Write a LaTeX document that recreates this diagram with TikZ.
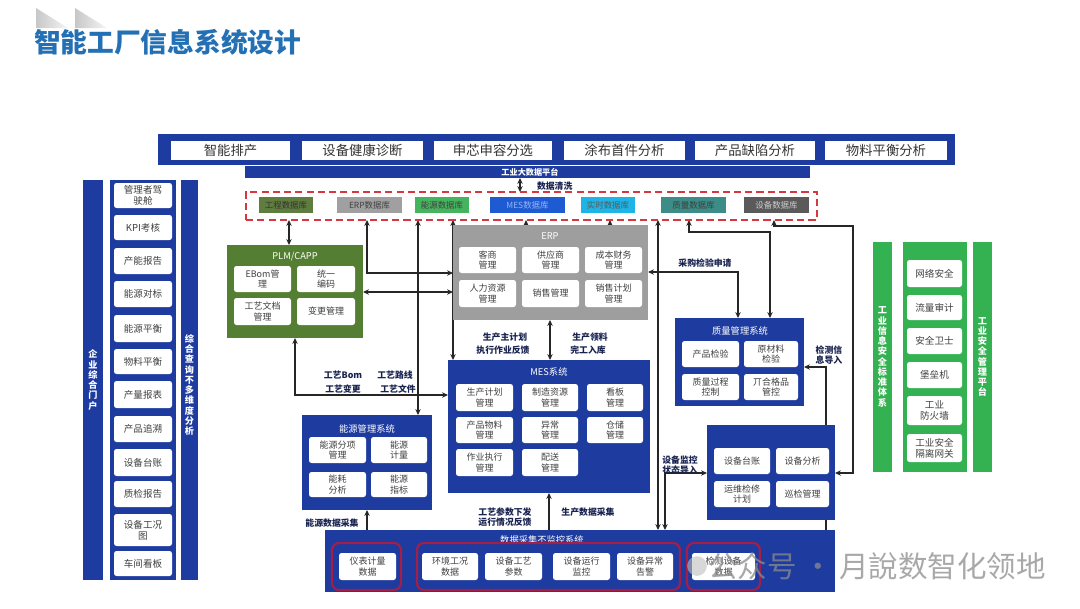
\documentclass[tikz,border=0pt]{standalone}
\usepackage{fontspec}
\setmainfont{Noto Sans CJK SC}
\usetikzlibrary{arrows.meta}
\definecolor{sysblue}{RGB}{30,60,160}
\definecolor{plmgreen}{RGB}{84,126,50}
\definecolor{erpgray}{RGB}{158,158,158}
\definecolor{secgreen}{RGB}{52,178,82}
\definecolor{dashred}{RGB}{214,56,64}
\definecolor{grpred}{RGB}{165,30,70}
\definecolor{titleblue}{RGB}{36,112,180}
\definecolor{navy}{RGB}{25,35,80}
\definecolor{dbA}{RGB}{95,125,62}
\definecolor{dbB}{RGB}{160,160,160}
\definecolor{dbC}{RGB}{70,180,95}
\definecolor{dbD}{RGB}{30,90,210}
\definecolor{dbE}{RGB}{30,180,230}
\definecolor{dbF}{RGB}{60,140,135}
\definecolor{dbG}{RGB}{90,90,90}
\pgfdeclarelayer{bg}
\pgfdeclarelayer{conn}
\pgfsetlayers{bg,conn,main}
\tikzset{
  bx/.style n args={4}{at={({(#1+#3)/2},{(#2+#4)/2})}, minimum width={(#3-#1)*0.025cm}, minimum height={(#4-#2)*0.025cm}},
  fb/.style={inner sep=0pt, outer sep=0pt, align=center},
  sysbox/.style={fb, fill=sysblue},
  wbox/.style={fb, fill=white, rounded corners=1.8pt, text=black!75, font=\fontsize{6.4}{7.6}\selectfont},
  lbox/.style={wbox, font=\fontsize{6.8}{8}\selectfont},
  topbox/.style={fb, fill=white, text=black!80, font=\fontsize{9.5}{11}\selectfont},
  dbbox/.style={fb, font=\fontsize{6}{7}\selectfont},
  systitle/.style={fb, text=white, font=\fontsize{6.6}{8}\selectfont},
  lbl/.style={fb, font=\bfseries\fontsize{6.3}{7.6}\selectfont, text=navy},
  vtext/.style={fb, text=white, font=\bfseries\fontsize{6.5}{7.3}\selectfont},
  grp/.style={fb, draw=grpred, line width=1.5pt, rounded corners=5pt},
  conn/.style={line width=0.75pt, draw=black!85}
}
\begin{document}
\begin{tikzpicture}[x=0.025cm,y=-0.025cm,>={Stealth[length=4.2pt,width=3.8pt]}]
\begin{pgfonlayer}{bg}
\fill[white] (0,0) rectangle (1080,608);
\shade[left color=black!22, right color=black!4] (36,8) -- (68,28) -- (36,28) -- cycle;
\shade[left color=black!22, right color=black!4] (75,8) -- (107,28) -- (75,28) -- cycle;
\end{pgfonlayer}
\useasboundingbox (0,0) rectangle (1080,608);

\node[fb, anchor=west, font=\bfseries\fontsize{19}{21}\selectfont, text=titleblue] (title) at (34,42) {智能工厂信息系统设计};

% top bar
\node[sysbox, bx={158}{134}{955}{165}] (topbar) {};
\node[topbox, bx={171}{141}{290}{160}] (ta) {智能排产};
\node[topbox, bx={302}{141}{423}{160}] (tb) {设备健康诊断};
\node[topbox, bx={434}{141}{552}{160}] (tc) {申芯申容分选};
\node[topbox, bx={564}{141}{685}{160}] (td) {涂布首件分析};
\node[topbox, bx={695}{141}{815}{160}] (te) {产品缺陷分析};
\node[topbox, bx={825}{141}{947}{160}] (tf) {物料平衡分析};

\node[sysbox, bx={245}{166}{810}{178}] (bigdata) {};
\node[fb, text=white, font=\bfseries\fontsize{5.8}{7}\selectfont] (bigdatat) at (530,172) {工业大数据平台};
\node[lbl, anchor=west] (clean) at (537,186) {数据清洗};

% database row
\node[fb, draw=dashred, dash pattern=on 5pt off 3pt, line width=1.5pt, bx={246}{192}{817}{220}] (dbgroup) {};
\node[dbbox, fill=dbA, text=black!80, bx={259}{197}{313}{213}] (db1) {工程数据库};
\node[dbbox, fill=dbB, text=black!75, bx={337}{197}{402}{213}] (db2) {ERP数据库};
\node[dbbox, fill=dbC, text=black!75, bx={415}{197}{469}{213}] (db3) {能源数据库};
\node[dbbox, fill=dbD, text={rgb,255:red,150;green,180;blue,245}, bx={490}{197}{565}{213}] (db4) {MES数据库};
\node[dbbox, fill=dbE, text=black!65, bx={581}{197}{635}{213}] (db5) {实时数据库};
\node[dbbox, fill=dbF, text=black!75, bx={661}{197}{726}{213}] (db6) {质量数据库};
\node[dbbox, fill=dbG, text=white!80!black, bx={744}{197}{809}{213}] (db7) {设备数据库};

% left panel
\node[sysbox, bx={83}{180}{103}{580}] (portal) {};
\node[vtext] (portalt) at (93,380) {企\\业\\综\\合\\门\\户};
\node[sysbox, bx={110}{180}{176}{580}] (leftcol) {};
\node[sysbox, bx={181}{180}{198}{580}] (query) {};
\node[vtext] (queryt) at (189.5,385) {综\\合\\查\\询\\不\\多\\维\\度\\分\\析};
\node[lbox, bx={114}{183}{172}{208}] (l1) {管理者驾\\驶舱};
\node[lbox, bx={114}{215}{172}{240}] (l2) {KPI考核};
\node[lbox, bx={114}{248}{172}{274}] (l3) {产能报告};
\node[lbox, bx={114}{281}{172}{307}] (l4) {能源对标};
\node[lbox, bx={114}{315}{172}{342}] (l5) {能源平衡};
\node[lbox, bx={114}{349}{172}{374}] (l6) {物料平衡};
\node[lbox, bx={114}{381}{172}{408}] (l7) {产量报表};
\node[lbox, bx={114}{416}{172}{442}] (l8) {产品追溯};
\node[lbox, bx={114}{449}{172}{476}] (l9) {设备台账};
\node[lbox, bx={114}{481}{172}{507}] (l10) {质检报告};
\node[lbox, bx={114}{514}{172}{546}] (l11) {设备工况\\图};
\node[lbox, bx={114}{551}{172}{576}] (l12) {车间看板};

% PLM
\node[fb, fill=plmgreen, bx={227}{245}{363}{338}] (plm) {};
\node[systitle] (plmt) at (295,257) {PLM/CAPP};
\node[wbox, bx={234}{266}{291}{292}] (p1) {EBom管\\理};
\node[wbox, bx={297}{266}{355}{292}] (p2) {统一\\编码};
\node[wbox, bx={234}{298}{291}{325}] (p3) {工艺文档\\管理};
\node[wbox, bx={297}{298}{355}{325}] (p4) {变更管理};

% ERP
\node[fb, fill=erpgray, bx={453}{225}{648}{320}] (erp) {};
\node[systitle] (erpt) at (550,236) {ERP};
\node[wbox, bx={459}{247}{516}{273}] (e1) {客商\\管理};
\node[wbox, bx={522}{247}{579}{273}] (e2) {供应商\\管理};
\node[wbox, bx={585}{247}{642}{273}] (e3) {成本财务\\管理};
\node[wbox, bx={459}{280}{516}{307}] (e4) {人力资源\\管理};
\node[wbox, bx={522}{280}{579}{307}] (e5) {销售管理};
\node[wbox, bx={585}{280}{642}{307}] (e6) {销售计划\\管理};

% MES
\node[sysbox, bx={448}{360}{650}{493}] (mes) {};
\node[systitle] (mest) at (549,372) {MES系统};
\node[wbox, bx={456}{384}{513}{411}] (m1) {生产计划\\管理};
\node[wbox, bx={522}{384}{578}{411}] (m2) {制造资源\\管理};
\node[wbox, bx={587}{384}{643}{411}] (m3) {看板\\管理};
\node[wbox, bx={456}{417}{513}{443}] (m4) {产品物料\\管理};
\node[wbox, bx={522}{417}{578}{443}] (m5) {异常\\管理};
\node[wbox, bx={587}{417}{643}{443}] (m6) {仓储\\管理};
\node[wbox, bx={456}{449}{513}{476}] (m7) {作业执行\\管理};
\node[wbox, bx={522}{449}{578}{476}] (m8) {配送\\管理};

% quality
\node[sysbox, bx={675}{318}{804}{406}] (quality) {};
\node[systitle] (qualityt) at (740,331) {质量管理系统};
\node[wbox, bx={682}{341}{739}{367}] (q1) {产品检验};
\node[wbox, bx={744}{341}{798}{367}] (q2) {原材料\\检验};
\node[wbox, bx={682}{374}{739}{400}] (q3) {质量过程\\控制};
\node[wbox, bx={744}{374}{798}{400}] (q4) {丌合格品\\管控};

% energy
\node[sysbox, bx={302}{415}{432}{510}] (energy) {};
\node[systitle] (energyt) at (367,429) {能源管理系统};
\node[wbox, bx={309}{437}{366}{463}] (en1) {能源分项\\管理};
\node[wbox, bx={371}{437}{427}{463}] (en2) {能源\\计量};
\node[wbox, bx={309}{472}{366}{497}] (en3) {能耗\\分析};
\node[wbox, bx={371}{472}{427}{497}] (en4) {能源\\指标};

% device
\node[sysbox, bx={707}{425}{835}{520}] (device) {};
\node[wbox, bx={714}{448}{770}{474}] (dv1) {设备台账};
\node[wbox, bx={776}{448}{829}{474}] (dv2) {设备分析};
\node[wbox, bx={714}{481}{770}{507}] (dv3) {运维检修\\计划};
\node[wbox, bx={776}{481}{829}{507}] (dv4) {巡检管理};

% data collection
\node[sysbox, bx={325}{530}{835}{592}] (dc) {};
\node[systitle] (dct) at (542,540) {数据采集不监控系统};
\node[grp, bx={332}{543}{401}{590}] (g1) {};
\node[grp, bx={417}{543}{680}{590}] (g2) {};
\node[grp, bx={687}{543}{760}{590}] (g3) {};
\node[wbox, bx={339}{553}{396}{580}] (c1) {仪表计量\\数据};
\node[wbox, bx={422}{553}{478}{580}] (c2) {环境工况\\数据};
\node[wbox, bx={485}{553}{542}{580}] (c3) {设备工艺\\参数};
\node[wbox, bx={553}{553}{610}{580}] (c4) {设备运行\\监控};
\node[wbox, bx={617}{553}{673}{580}] (c5) {设备异常\\告警};
\node[wbox, bx={692}{553}{755}{580}] (c6) {检测设备\\数据};

% security
\node[fb, fill=secgreen, bx={873}{242}{892}{472}] (sec1) {};
\node[vtext] (sec1t) at (882.5,357) {工\\业\\信\\息\\安\\全\\标\\准\\体\\系};
\node[fb, fill=secgreen, bx={903}{242}{967}{472}] (sec2) {};
\node[fb, fill=secgreen, bx={973}{242}{992}{472}] (sec3) {};
\node[vtext] (sec3t) at (982.5,357) {工\\业\\安\\全\\管\\理\\平\\台};
\node[lbox, bx={907}{260}{962}{287}] (s1) {网络安全};
\node[lbox, bx={907}{295}{962}{320}] (s2) {流量审计};
\node[lbox, bx={907}{328}{962}{354}] (s3) {安全卫士};
\node[lbox, bx={907}{362}{962}{388}] (s4) {堡垒机};
\node[lbox, bx={907}{396}{962}{425}] (s5) {工业\\防火墙};
\node[lbox, bx={907}{434}{962}{462}] (s6) {工业安全\\隔离网关};

% labels
\node[lbl] (la1) at (505,337) {生产主计划};
\node[lbl] (la2) at (503,350) {执行作业反馈};
\node[lbl] (la3) at (590,337) {生产领料};
\node[lbl] (la4) at (588,350) {完工入库};
\node[lbl] (la5) at (343,375) {工艺Bom};
\node[lbl] (la6) at (395,375) {工艺路线};
\node[lbl] (la7) at (343,389) {工艺变更};
\node[lbl] (la8) at (398,389) {工艺文件};
\node[lbl] (la9) at (705,263) {采购检验申请};
\node[lbl] (la10) at (829,355) {检测信\\息导入};
\node[lbl] (la11) at (680,465) {设备监控\\状态导入};
\node[lbl] (la12) at (332,523) {能源数据采集};
\node[lbl] (la13) at (505,517) {工艺参数下发\\运行情况反馈};
\node[lbl] (la14) at (588,512) {生产数据采集};

% watermark
\node[fb, circle, fill=black!25, opacity=0.6, minimum size=14pt] (wmicon) at (697,566) {};
\node[fb, anchor=west, text=black!45, opacity=0.75, font=\fontsize{21}{23}\selectfont] (wm) at (708,566) {公众号 · 月說数智化领地};

% connectors
\begin{pgfonlayer}{conn}
\draw[conn,<->] (520,0 |- bigdata.south) -- (520,0 |- dbgroup.north);
\draw[conn,<->] (289,0 |- dbgroup.south) -- (289,0 |- plm.north);
\draw[conn,<->] (367,0 |- dbgroup.south) |- (erp.west |- 0,273);
\draw[conn,<->] (plm.east |- 0,292) -- (erp.west |- 0,292);
\draw[conn,<->] (418,0 |- dbgroup.south) -- (418,0 |- energy.north);
\draw[conn,<->] (453,0 |- dbgroup.south) -- (453,0 |- mes.north);
\draw[conn,<-] (526,0 |- dbgroup.south) -- (526,0 |- erp.north);
\draw[conn,<-] (610,0 |- dbgroup.south) -- (610,0 |- erp.north);
\draw[conn,<->] (550,0 |- erp.south) -- (550,0 |- mes.north);
\draw[conn,<->] (295,0 |- plm.south) |- (mes.west |- 0,395);
\draw[conn,<->] (erp.east |- 0,272) -| (738,0 |- quality.north);
\draw[conn,<->] (689,0 |- dbgroup.south) -- (689,232) -| (770,0 |- quality.north);
\draw[conn,<->] (774,0 |- dbgroup.south) -- (774,226) -| (853,473) -- (device.east |- 0,473);
\draw[conn,<->] (658,0 |- dbgroup.south) -- (658,0 |- dc.north);
\draw[conn,<->] (665,0 |- dc.north) |- (device.west |- 0,473);
\draw[conn,->] (826,0 |- dc.north) |- (quality.east |- 0,367);
\draw[conn,<->] (367,0 |- energy.south) -- (367,0 |- g1.north);
\draw[conn,->] (549,0 |- dc.north) -- (549,0 |- mes.south);
\end{pgfonlayer}
\end{tikzpicture}
\end{document}
